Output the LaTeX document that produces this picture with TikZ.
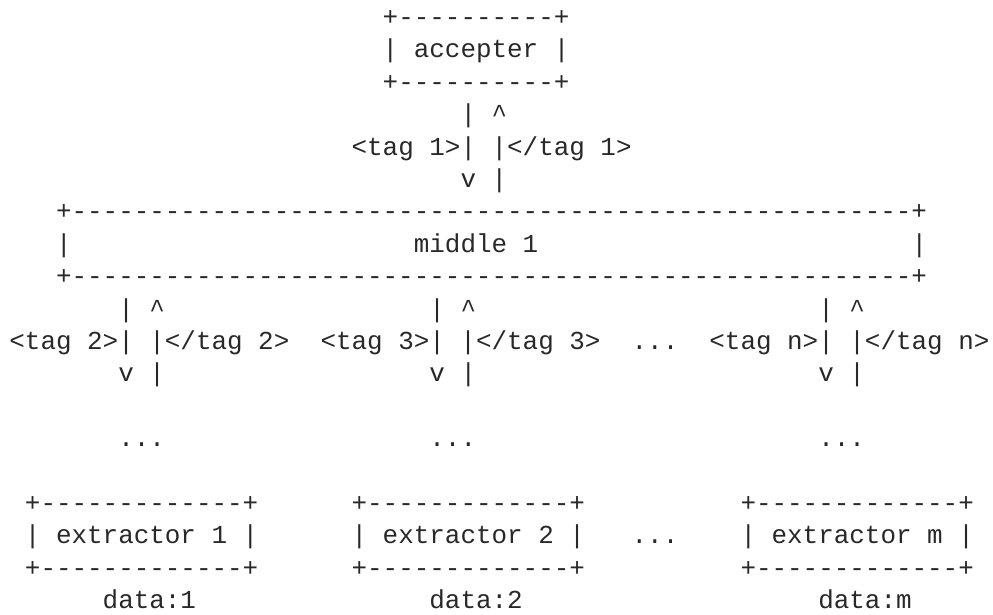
\documentclass[tikz,border=0pt]{standalone}
\usepackage{fontspec}
\setmonofont{Liberation Mono}
\definecolor{ink}{RGB}{40,40,40}
\newcommand\dashten{----------}
\tikzset{
  asc/.style={inner sep=0pt, outer sep=0pt, anchor=base west, text=ink,
    font=\ttfamily\fontsize{25.92bp}{32.4bp}\selectfont},
}
% place text #4 named #1 at column #2, row #3
\newcommand\asctext[4]{\node[asc] (#1) at ({9.4+15.556*#2},{615-25.5-32.4*(#3-1)}) {#4};}
\begin{document}
\begin{tikzpicture}[x=1bp,y=1bp]
\useasboundingbox (0,0) rectangle (993,615);
% accepter box
\asctext{acctop}{24}{1}{+\dashten+}
\asctext{acc}{24}{2}{| accepter |}
\asctext{accbot}{24}{3}{+\dashten+}
% link accepter - middle 1
\asctext{upa}{29}{4}{| \textasciicircum}
\asctext{taga}{22}{5}{<tag 1>| |</tag 1>}
\asctext{dna}{29}{6}{v |}
% middle 1 box
\asctext{midtop}{3}{7}{+\dashten\dashten\dashten\dashten\dashten----+}
\asctext{midl}{3}{8}{|}
\asctext{mid}{26}{8}{middle 1}
\asctext{midr}{58}{8}{|}
\asctext{midbot}{3}{9}{+\dashten\dashten\dashten\dashten\dashten----+}
% links middle 1 - extractors
\asctext{upb}{7}{10}{| \textasciicircum}
\asctext{upc}{27}{10}{| \textasciicircum}
\asctext{upn}{52}{10}{| \textasciicircum}
\asctext{tagb}{0}{11}{<tag 2>| |</tag 2>}
\asctext{tagc}{20}{11}{<tag 3>| |</tag 3>}
\asctext{tagdots}{40}{11}{...}
\asctext{tagn}{45}{11}{<tag n>| |</tag n>}
\asctext{dnb}{7}{12}{v |}
\asctext{dnc}{27}{12}{v |}
\asctext{dnn}{52}{12}{v |}
\asctext{elb}{7}{14}{...}
\asctext{elc}{27}{14}{...}
\asctext{eln}{52}{14}{...}
% extractor boxes
\asctext{exatop}{1}{16}{+\dashten---+}
\asctext{exbtop}{22}{16}{+\dashten---+}
\asctext{exmtop}{47}{16}{+\dashten---+}
\asctext{exa}{1}{17}{| extractor 1 |}
\asctext{exb}{22}{17}{| extractor 2 |}
\asctext{exdots}{40}{17}{...}
\asctext{exm}{47}{17}{| extractor m |}
\asctext{exabot}{1}{18}{+\dashten---+}
\asctext{exbbot}{22}{18}{+\dashten---+}
\asctext{exmbot}{47}{18}{+\dashten---+}
% data labels
\asctext{dataa}{6}{19}{data:1}
\asctext{datab}{27}{19}{data:2}
\asctext{datam}{52}{19}{data:m}
\end{tikzpicture}
\end{document}
